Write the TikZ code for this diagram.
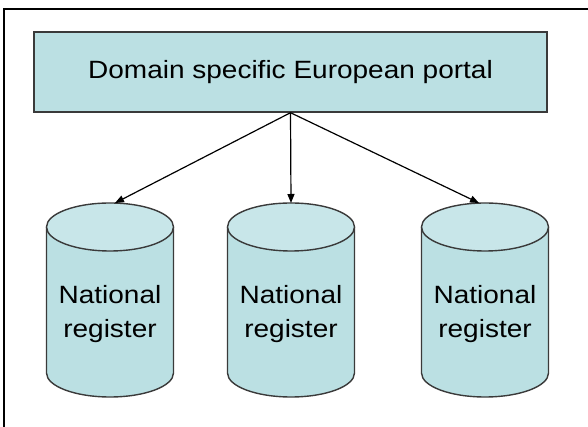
\documentclass[tikz,border=0pt]{standalone}
\usepackage{fontspec}
\setmainfont[FakeStretch=1.12]{Liberation Sans}
\usetikzlibrary{arrows.meta}
\definecolor{boxfill}{HTML}{BBE0E3}
\definecolor{topfill}{HTML}{C8E6E9}
\definecolor{edge}{HTML}{3A3A3A}

\begin{document}
\begin{tikzpicture}[x=1pt, y=1pt,
    portal/.style={draw=edge, line width=1.4pt, fill=boxfill, minimum width=513pt, minimum height=80pt, inner sep=0pt},
    regtext/.style={align=center, inner sep=0pt, font=\fontsize{25}{34}\selectfont},
    link/.style={-{Triangle[length=9pt,width=7pt]}, line width=1.2pt}]
    \useasboundingbox (0,0) rectangle (588,427);
    \draw [line width=2pt] (4,0) -- (4,418) -- (588,418);
    \node [portal] (portal) at (290.5,355) {\fontsize{25}{30}\selectfont Domain specific European portal};
    % the three registers
    \foreach \i/\cx in {1/110, 2/291, 3/485} {
        \fill [boxfill] (\cx-63.5,200) -- (\cx-63.5,54) arc [start angle=180, end angle=360, x radius=63.5, y radius=24] -- (\cx+63.5,200) -- cycle;
        \draw [edge, line width=1.4pt] (\cx-63.5,200) -- (\cx-63.5,54) arc [start angle=180, end angle=360, x radius=63.5, y radius=24] -- (\cx+63.5,200);
        \draw [edge, fill=topfill, line width=1.4pt] (\cx,200) ellipse [x radius=63.5, y radius=24];
        \node [regtext] (reg\i) at (\cx,113) {National\\register};
    }
    \coordinate (top1) at (115,224);
    \coordinate (top2) at (291,224);
    \coordinate (top3) at (479,224);
    \draw [link] (portal.south) -- (top1);
    \draw [link] (portal.south) -- (top2);
    \draw [link] (portal.south) -- (top3);
\end{tikzpicture}
\end{document}
